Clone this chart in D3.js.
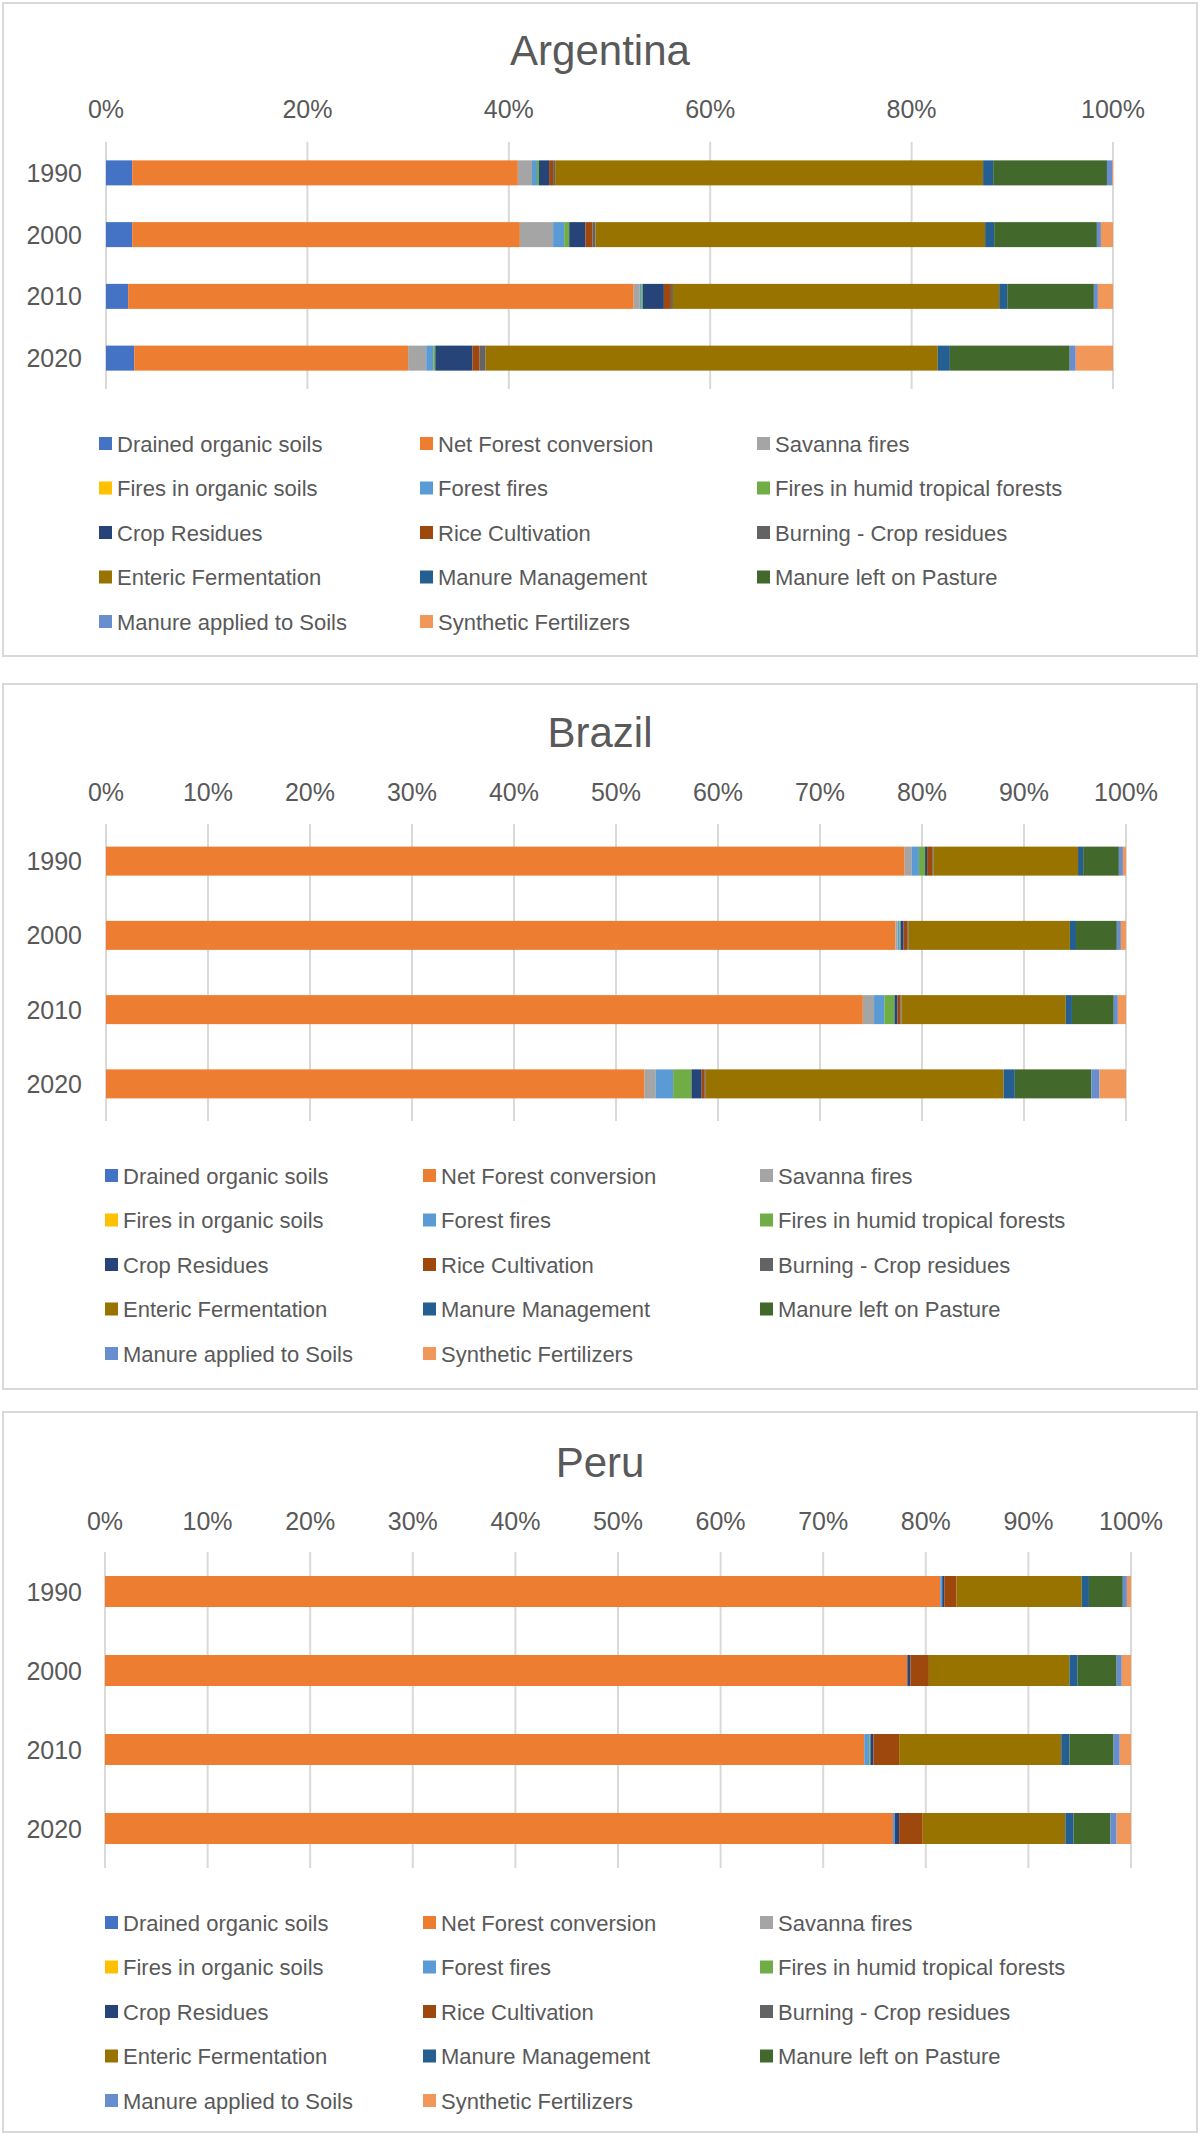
<!DOCTYPE html>
<html><head><meta charset="utf-8">
<script src="https://cdn.jsdelivr.net/npm/d3@7"></script>
<style>body{margin:0;background:#fff}svg{display:block}text{font-family:"Liberation Sans",Arial,sans-serif;fill:#595959}</style>
</head><body>
<svg id="c" width="1200" height="2136"></svg>
<script>
const years = ["1990","2000","2010","2020"];
const seriesNames = ["Drained organic soils","Net Forest conversion","Savanna fires","Fires in organic soils","Forest fires","Fires in humid tropical forests","Crop Residues","Rice Cultivation","Burning - Crop residues","Enteric Fermentation","Manure Management","Manure left on Pasture","Manure applied to Soils","Synthetic Fertilizers"];
const colors = ["#4472C4","#ED7D31","#A5A5A5","#FFC000","#5B9BD5","#70AD47","#264478","#9E480E","#636363","#997300","#255E91","#43682B","#698ED0","#F1975A"];
// values per year, in series order (percent shares)
const argentina = [
  [2.6,38.3,1.4,0,0.5,0.2,1.0,0.4,0.2,42.5,1.0,11.3,0.5,0.1],
  [2.6,38.5,3.3,0,1.1,0.5,1.6,0.7,0.3,38.7,0.9,10.2,0.4,1.2],
  [2.2,50.2,0.6,0,0.15,0.15,2.1,0.7,0.2,32.4,0.8,8.6,0.4,1.5],
  [2.8,27.2,1.8,0,0.7,0.2,3.7,0.7,0.6,44.9,1.2,11.9,0.6,3.7]];
const brazil = [
  [0,78.3,0.7,0,0.7,0.6,0.2,0.5,0.1,14.2,0.5,3.5,0.4,0.3],
  [0,77.4,0.2,0,0.2,0.1,0.3,0.4,0.1,15.8,0.6,4.0,0.4,0.5],
  [0,74.2,1.1,0,1.0,1.0,0.3,0.3,0.1,16.1,0.6,4.1,0.4,0.8],
  [0,52.8,1.1,0,1.7,1.8,1.0,0.3,0.1,29.2,1.1,7.5,0.8,2.6]];
const peru = [
  [0,81.4,0,0,0.2,0,0.2,1.2,0,12.2,0.7,3.3,0.4,0.4],
  [0,78.2,0,0,0,0,0.3,1.8,0,13.7,0.8,3.8,0.5,0.9],
  [0,74.0,0,0,0.5,0.1,0.3,2.5,0,15.8,0.8,4.3,0.6,1.1],
  [0,76.8,0,0,0.2,0,0.4,2.3,0,13.9,0.8,3.6,0.6,1.4]];
const ticksArg = [0,0.2,0.4,0.6,0.8,1];
const ticks10 = [0,0.1,0.2,0.3,0.4,0.5,0.6,0.7,0.8,0.9,1];

const svg = d3.select("#c");
const panels = [
  {name:"Argentina",data:argentina,ticks:ticksArg,box:[3,3,1194,653],titleY:50,tickY:109,plot:[142,389],x:[106,1113],barH:25,legY:444,legX:[99,420,757]},
  {name:"Brazil",data:brazil,ticks:ticks10,box:[3,684,1194,705],titleY:732,tickY:792,plot:[824,1121],x:[106,1126],barH:29,legY:1176,legX:[105,423,760]},
  {name:"Peru",data:peru,ticks:ticks10,box:[3,1412,1194,720],titleY:1462,tickY:1521,plot:[1552,1868],x:[105,1131],barH:31,legY:1923,legX:[105,423,760]}
];
panels.forEach(p=>{
  const g = svg.append("g");
  g.append("rect").attr("x",p.box[0]).attr("y",p.box[1]).attr("width",p.box[2]).attr("height",p.box[3]).attr("fill","#fff").attr("stroke","#d9d9d9").attr("stroke-width",2);
  g.append("text").attr("x",600).attr("y",p.titleY).attr("text-anchor","middle").attr("dominant-baseline","central").style("font-size","42px").text(p.name);
  const x = d3.scaleLinear().domain([0,1]).range(p.x);
  const y = d3.scaleBand().domain(years).range(p.plot).paddingInner(0).paddingOuter(0);
  g.selectAll(".grid").data(p.ticks).join("line").attr("x1",d=>x(d)).attr("x2",d=>x(d)).attr("y1",p.plot[0]).attr("y2",p.plot[1]).attr("stroke","#d9d9d9").attr("stroke-width",2);
  g.selectAll(".tick").data(p.ticks).join("text").attr("x",d=>x(d)).attr("y",p.tickY).attr("text-anchor","middle").attr("dominant-baseline","central").style("font-size","25px").text(d3.format(".0%"));
  const rows = years.map((yr,i)=>{const o={year:yr};seriesNames.forEach((s,j)=>o[s]=p.data[i][j]);return o;});
  const stack = d3.stack().keys(seriesNames).offset(d3.stackOffsetExpand)(rows);
  stack.forEach((layer,j)=>{
    g.selectAll(null).data(layer).join("rect")
      .attr("x",d=>x(d[0])).attr("width",d=>Math.max(0,x(d[1])-x(d[0])))
      .attr("y",d=>y(d.data.year)+y.bandwidth()/2-p.barH/2).attr("height",p.barH)
      .attr("fill",colors[j]);
  });
  g.selectAll(".yl").data(years).join("text").attr("x",82).attr("y",d=>y(d)+y.bandwidth()/2).attr("text-anchor","end").attr("dominant-baseline","central").style("font-size","25px").text(d=>d);
  seriesNames.forEach((s,i)=>{
    const col=i%3,row=Math.floor(i/3);
    const lx=p.legX[col], ly=p.legY+row*44.5;
    g.append("rect").attr("x",lx).attr("y",ly-7).attr("width",13).attr("height",13).attr("fill",colors[i]);
    g.append("text").attr("x",lx+18).attr("y",ly).attr("dominant-baseline","central").style("font-size","22px").text(s);
  });
});
</script>
</body></html>
